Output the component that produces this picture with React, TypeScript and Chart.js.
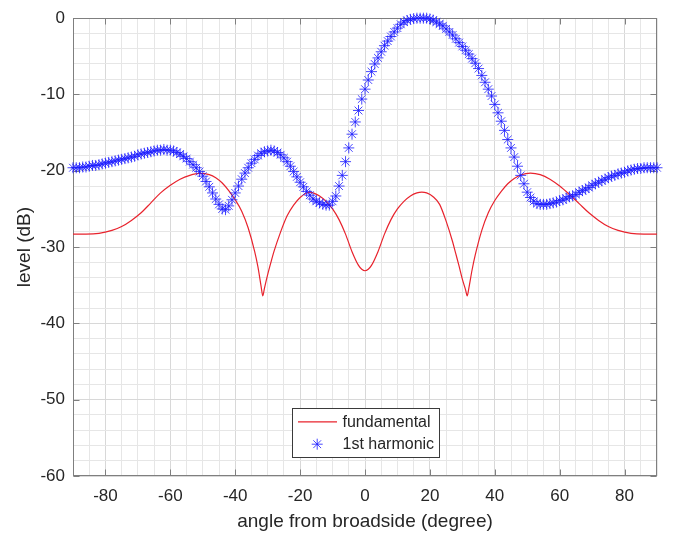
import React, { useEffect, useRef } from 'react';
import { Chart, registerables } from 'chart.js';

Chart.register(...registerables);

// ---------------- data ----------------
const seriesNames = ['fundamental', '1st harmonic'];

const fundamentalAngles = [
  -90, -86, -82, -78, -75, -72, -69, -66, -63, -60, -57, -54, -51, -48, -46, -44, -42, -40, -38, -36,
  -34, -33, -32, -31.5, -31, -30, -29, -28, -26, -24, -22, -20, -18, -17, -16, -14, -12, -10, -8, -6,
  -4, -2, -1, 0, 1, 2, 4, 6, 8, 10, 12, 14, 16, 17.5, 19, 21, 23, 25, 27, 28,
  29, 30, 31, 31.5, 32, 33, 34, 36, 38, 40, 42, 44, 46, 48, 51, 54, 57, 60, 63, 66,
  69, 72, 75, 78, 82, 86, 90,
];
const fundamentalLevels = [
  -28.3, -28.3, -28.2, -27.8, -27.3, -26.5, -25.5, -24.2, -22.9, -21.9, -21.1, -20.6, -20.35, -20.5, -20.9, -21.6, -22.6, -23.8, -25.3, -27.5,
  -30.6, -32.6, -35.2, -36.4, -35.4, -33.6, -32.0, -30.5, -28.0, -25.9, -24.5, -23.5, -22.9, -22.8, -22.9, -23.3, -24.0, -25.0, -26.4, -28.3,
  -30.6, -32.4, -32.9, -33.1, -32.9, -32.4, -30.6, -28.3, -26.4, -25.0, -24.0, -23.3, -22.9, -22.8, -22.9, -23.4, -24.4, -26.6, -29.3, -30.9,
  -32.5, -34.2, -35.6, -36.4, -35.4, -33.0, -31.0, -27.8, -25.5, -23.9, -22.7, -21.7, -21.0, -20.55, -20.3, -20.5, -21.1, -22.0, -23.1, -24.3,
  -25.5, -26.5, -27.3, -27.8, -28.2, -28.3, -28.3,
];

const harmonicAngles = [
  -90, -89, -88, -87, -86, -85, -84, -83, -82, -81,
  -80, -79, -78, -77, -76, -75, -74, -73, -72, -71,
  -70, -69, -68, -67, -66, -65, -64, -63, -62, -61,
  -60, -59, -58, -57, -56, -55, -54, -53, -52, -51,
  -50, -49, -48, -47, -46, -45, -44, -43, -42, -41,
  -40, -39, -38, -37, -36, -35, -34, -33, -32, -31,
  -30, -29, -28, -27, -26, -25, -24, -23, -22, -21,
  -20, -19, -18, -17, -16, -15, -14, -13, -12, -11,
  -10, -9, -8, -7, -6, -5, -4, -3, -2, -1,
  0, 1, 2, 3, 4, 5, 6, 7, 8, 9,
  10, 11, 12, 13, 14, 15, 16, 17, 18, 19,
  20, 21, 22, 23, 24, 25, 26, 27, 28, 29,
  30, 31, 32, 33, 34, 35, 36, 37, 38, 39,
  40, 41, 42, 43, 44, 45, 46, 47, 48, 49,
  50, 51, 52, 53, 54, 55, 56, 57, 58, 59,
  60, 61, 62, 63, 64, 65, 66, 67, 68, 69,
  70, 71, 72, 73, 74, 75, 76, 77, 78, 79,
  80, 81, 82, 83, 84, 85, 86, 87, 88, 89,
  90,
];
const harmonicLevels = [
  -19.6, -19.6, -19.6, -19.5, -19.5, -19.4, -19.3, -19.3, -19.2, -19.1,
  -19.0, -18.9, -18.8, -18.7, -18.6, -18.5, -18.4, -18.3, -18.2, -18.1,
  -17.9, -17.8, -17.7, -17.6, -17.5, -17.4, -17.3, -17.3, -17.2, -17.3,
  -17.3, -17.4, -17.6, -17.8, -18.1, -18.4, -18.8, -19.2, -19.6, -20.1,
  -20.7, -21.4, -22.1, -22.9, -23.7, -24.4, -25.0, -25.1, -24.6, -23.8,
  -22.9, -22.0, -21.1, -20.3, -19.6, -19.0, -18.5, -18.0, -17.7, -17.5,
  -17.4, -17.3, -17.4, -17.6, -17.9, -18.3, -18.8, -19.4, -20.1, -20.8,
  -21.5, -22.1, -22.7, -23.2, -23.7, -24.0, -24.2, -24.4, -24.5, -24.5,
  -24.0, -23.3, -22.0, -20.6, -18.8, -17.0, -15.2, -13.6, -12.1, -10.6,
  -9.3, -8.1, -7.0, -6.0, -5.2, -4.4, -3.6, -3.0, -2.4, -1.8,
  -1.3, -0.8, -0.5, -0.3, -0.15, -0.05, 0, 0, 0, 0,
  -0.1, -0.25, -0.5, -0.75, -1.0, -1.4, -1.8, -2.2, -2.7, -3.2,
  -3.7, -4.2, -4.7, -5.3, -5.9, -6.6, -7.5, -8.4, -9.3, -10.2,
  -11.3, -12.4, -13.5, -14.7, -15.9, -17.0, -18.2, -19.4, -20.6, -21.7,
  -22.8, -23.5, -24.0, -24.3, -24.4, -24.4, -24.4, -24.3, -24.2, -24.1,
  -23.9, -23.8, -23.6, -23.4, -23.3, -23.1, -22.8, -22.6, -22.4, -22.2,
  -21.9, -21.7, -21.5, -21.3, -21.1, -20.9, -20.7, -20.6, -20.4, -20.3,
  -20.2, -20.0, -19.9, -19.8, -19.7, -19.7, -19.6, -19.6, -19.6, -19.6,
  -19.6,
];

const xTickLabels = [-80, -60, -40, -20, 0, 20, 40, 60, 80];
const yTickLabels = [0, -10, -20, -30, -40, -50, -60];
const xTitle = 'angle from broadside (degree)';
const yTitle = 'level (dB)';

// ---------------- styles ----------------
const FONT = '"Liberation Sans", Arial, Helvetica, sans-serif';
const TEXT = '#262626';
const AXIS = '#7f7f7f';
const RED = 'rgb(232,35,45)';
const BLUE = 'rgb(25,25,255)';

function drawAsterisk(ctx: CanvasRenderingContext2D, cx: number, cy: number, r: number) {
  const d = r * Math.SQRT1_2;
  ctx.beginPath();
  ctx.moveTo(cx - r, cy); ctx.lineTo(cx + r, cy);
  ctx.moveTo(cx, cy - r); ctx.lineTo(cx, cy + r);
  ctx.moveTo(cx - d, cy - d); ctx.lineTo(cx + d, cy + d);
  ctx.moveTo(cx - d, cy + d); ctx.lineTo(cx + d, cy - d);
  ctx.stroke();
}

const framePlugin = {
  id: 'matlabFrame',
  beforeDatasetsDraw(chart: any) {
    const { ctx, chartArea, scales } = chart;
    const { left, right, top, bottom } = chartArea;
    const x = scales.x;
    const y = scales.y;
    ctx.save();
    ctx.strokeStyle = AXIS;
    ctx.lineWidth = 1;
    const L = Math.round(left) + 0.5;
    const R = Math.round(right) - 0.5;
    const T = Math.round(top) + 0.5;
    const B = Math.round(bottom) - 0.5;
    ctx.strokeRect(L, T, R - L, B - T);
    const tl = 6;
    ctx.beginPath();
    xTickLabels.forEach((v) => {
      const px = Math.round(x.getPixelForValue(v)) + 0.5;
      ctx.moveTo(px, B); ctx.lineTo(px, B - tl);
      ctx.moveTo(px, T); ctx.lineTo(px, T + tl);
    });
    yTickLabels.forEach((v) => {
      const py = Math.round(y.getPixelForValue(v)) + 0.5;
      ctx.moveTo(L, py); ctx.lineTo(L + tl, py);
      ctx.moveTo(R, py); ctx.lineTo(R - tl, py);
    });
    ctx.stroke();
    ctx.restore();
  },
  afterDatasetsDraw(chart: any) {
    const { ctx, chartArea } = chart;
    const cx = (chartArea.left + chartArea.right) / 2;
    const w = 147;
    const h = 49;
    const lx = Math.round(cx - w / 2) + 0.5;
    const ly = Math.round(chartArea.bottom - 19 - h) + 0.5;
    ctx.save();
    ctx.fillStyle = '#ffffff';
    ctx.fillRect(lx, ly, w, h);
    ctx.strokeStyle = '#3a3a3a';
    ctx.lineWidth = 1;
    ctx.strokeRect(lx, ly, w, h);
    const r1 = ly + 13.3;
    const r2 = ly + 35.7;
    // fundamental sample
    ctx.strokeStyle = RED;
    ctx.lineWidth = 1.2;
    ctx.beginPath();
    ctx.moveTo(lx + 5.5, r1);
    ctx.lineTo(lx + 44.5, r1);
    ctx.stroke();
    // harmonic sample
    ctx.strokeStyle = BLUE;
    ctx.lineWidth = 0.8;
    drawAsterisk(ctx, lx + 24.7, r2, 5.5);
    ctx.fillStyle = TEXT;
    ctx.font = `16px ${FONT}`;
    ctx.textBaseline = 'middle';
    ctx.textAlign = 'left';
    ctx.fillText(seriesNames[0], lx + 50, r1 + 0.5);
    ctx.fillText(seriesNames[1], lx + 50, r2 + 0.5);
    ctx.restore();
  },
};

export default function App() {
  const canvasRef = useRef<HTMLCanvasElement | null>(null);

  useEffect(() => {
    const canvas = canvasRef.current;
    if (!canvas) return;
    const fundamentalData = fundamentalAngles.map((a, i) => ({ x: a, y: fundamentalLevels[i] }));
    const harmonicData = harmonicAngles.map((a, i) => ({ x: a, y: harmonicLevels[i] }));

    const gridColor = (ctx: any, major: number) => {
      const v = ctx.tick ? ctx.tick.value : 0;
      return Math.abs(v % major) < 1e-6 ? '#d8d8d8' : '#e6e6e6';
    };

    const chart = new Chart(canvas, {
      type: 'scatter',
      data: {
        datasets: [
          {
            label: seriesNames[0],
            data: fundamentalData,
            showLine: true,
            borderColor: RED,
            backgroundColor: RED,
            borderWidth: 1.2,
            pointRadius: 0,
            cubicInterpolationMode: 'monotone',
            order: 1,
          } as any,
          {
            label: seriesNames[1],
            data: harmonicData,
            showLine: false,
            pointStyle: 'star',
            pointRadius: 5.5,
            borderColor: BLUE,
            backgroundColor: BLUE,
            pointBorderWidth: 0.8,
            clip: false,
            order: 0,
          } as any,
        ],
      },
      options: {
        responsive: false,
        animation: false,
        devicePixelRatio: 1,
        layout: { padding: { left: 0, right: 18, top: 14, bottom: 0 } },
        plugins: {
          legend: { display: false },
          tooltip: { enabled: false },
        },
        scales: {
          x: {
            type: 'linear',
            min: -90,
            max: 90,
            afterFit: (scale: any) => { scale.height = 58; },
            border: { display: false },
            grid: {
              color: (ctx: any) => gridColor(ctx, 20),
              lineWidth: 1,
              drawTicks: false,
            },
            ticks: {
              stepSize: 5,
              autoSkip: false,
              maxRotation: 0,
              minRotation: 0,
              padding: 10,
              color: TEXT,
              font: { family: FONT, size: 17 },
              callback: (v: any) => (xTickLabels.includes(Number(v)) ? String(v) : ''),
            },
            title: {
              display: true,
              text: xTitle,
              color: TEXT,
              font: { family: FONT, size: 19 },
              padding: { top: 0, bottom: 1 },
            },
          },
          y: {
            type: 'linear',
            min: -60,
            max: 0,
            afterFit: (scale: any) => { scale.width = 73; },
            border: { display: false },
            grid: {
              color: (ctx: any) => gridColor(ctx, 10),
              lineWidth: 1,
              drawTicks: false,
            },
            ticks: {
              stepSize: 2,
              autoSkip: false,
              padding: 8,
              color: TEXT,
              font: { family: FONT, size: 17 },
              callback: (v: any) => (yTickLabels.includes(Number(v)) ? String(v) : ''),
            },
            title: {
              display: true,
              text: yTitle,
              color: TEXT,
              font: { family: FONT, size: 19 },
              padding: { top: 13, bottom: 0 },
            },
          },
        },
      },
      plugins: [framePlugin],
    } as any);

    return () => chart.destroy();
  }, []);

  return (
    <div style={{ position: 'fixed', left: 0, top: 0, width: 675, height: 534, background: '#ffffff' }}>
      <canvas ref={canvasRef} width={675} height={534} style={{ display: 'block', width: 675, height: 534 }} />
    </div>
  );
}
